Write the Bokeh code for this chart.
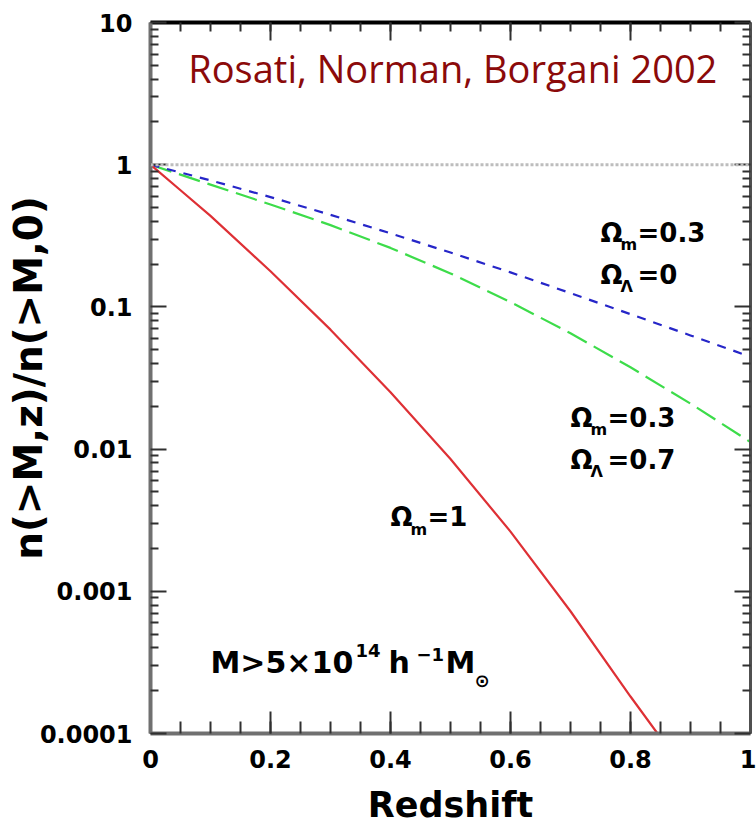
from bokeh.plotting import figure
from bokeh.models import (Range1d, FixedTicker, LinearAxis, LogAxis,
                          CustomJSTickFormatter, Span)
from bokeh.core.properties import value
from bokeh.embed import file_html
from bokeh.resources import INLINE

# ---- data ----
z_omega1 = [0.0, 0.05, 0.1, 0.2, 0.3, 0.4, 0.5, 0.6, 0.7, 0.8, 0.845]
n_omega1 = [1.0, 0.661, 0.437, 0.178, 0.0692, 0.0251, 0.00851, 0.00263,
            0.000724, 0.000182, 0.0001]

z_open = [0.0, 0.1, 0.2, 0.3, 0.4, 0.5, 0.6, 0.7, 0.8, 0.9, 1.0]
n_open = [1.0, 0.776, 0.592, 0.444, 0.329, 0.241, 0.175, 0.125, 0.0889,
          0.0630, 0.0446]

z_lambda = [0.0, 0.1, 0.2, 0.3, 0.4, 0.5, 0.6, 0.7, 0.8, 0.9, 1.0]
n_lambda = [1.0, 0.724, 0.525, 0.376, 0.260, 0.172, 0.108, 0.0653, 0.0376,
            0.0209, 0.0112]

ref_level = 1.0

x_ticks = [0.0, 0.2, 0.4, 0.6, 0.8, 1.0]
x_tick_labels = ["0", "0.2", "0.4", "0.6", "0.8", "1"]
y_ticks = [1e-4, 1e-3, 1e-2, 1e-1, 1.0, 10.0]
y_tick_labels = ["0.0001", "0.001", "0.01", "0.1", "1", "10"]

title_text = "Rosati, Norman, Borgani 2002"
x_title = "Redshift"
y_title = "n(>M,z)/n(>M,0)"

# ---- figure ----
W, H = 756, 830
p = figure(width=W, height=H, output_backend="svg", toolbar_location=None,
           y_axis_type="log", x_range=Range1d(0, 1), y_range=Range1d(1e-4, 10),
           min_border_left=150, min_border_right=6, min_border_top=22,
           min_border_bottom=97)
p.outline_line_color = None
p.grid.visible = False
p.background_fill_color = "white"
p.border_fill_color = "white"

x_minor = [round(0.05 * i, 2) for i in range(21)]
y_minor = [m * 10.0 ** e for e in range(-4, 1) for m in range(2, 10)]

def fmt(vals, labs):
    return CustomJSTickFormatter(args=dict(vals=vals, labs=labs), code="""
        for (let i = 0; i < vals.length; i++) {
            if (Math.abs(tick - vals[i]) <= 1e-6 * Math.abs(vals[i]) + 1e-12) return labs[i];
        }
        return "";
    """)

blank = CustomJSTickFormatter(code="return '';")

def style_axis(ax, color, width, major_in, minor_in):
    ax.axis_line_color = color
    ax.axis_line_width = width
    ax.major_tick_in = major_in
    ax.major_tick_out = 0
    ax.minor_tick_in = minor_in
    ax.minor_tick_out = 0
    ax.major_tick_line_color = "#303030"
    ax.minor_tick_line_color = "#303030"
    ax.major_tick_line_width = 2
    ax.minor_tick_line_width = 2
    ax.major_label_text_font = "DejaVu Sans"
    ax.major_label_text_font_style = "bold"
    ax.major_label_text_color = "black"
    ax.axis_label_text_font = "DejaVu Sans"
    ax.axis_label_text_font_style = "bold"
    ax.axis_label_text_color = "black"

xb = p.xaxis[0]
xb.ticker = FixedTicker(ticks=x_ticks, minor_ticks=x_minor)
xb.formatter = fmt(x_ticks, x_tick_labels)
style_axis(xb, "#707070", 4, 22, 12)
xb.major_label_text_font_size = "24px"
xb.major_label_standoff = 16
xb.axis_label = x_title
xb.axis_label_text_font_size = "35px"
xb.axis_label_standoff = 14

yl = p.yaxis[0]
yl.ticker = FixedTicker(ticks=y_ticks, minor_ticks=y_minor)
yl.formatter = fmt(y_ticks, y_tick_labels)
style_axis(yl, "#707070", 4, 16, 8)
yl.major_label_text_font_size = "24px"
yl.major_label_standoff = 18
yl.axis_label = y_title
yl.axis_label_text_font_size = "39px"
yl.axis_label_standoff = -14

xt = LinearAxis(ticker=FixedTicker(ticks=x_ticks, minor_ticks=x_minor),
                formatter=blank)
style_axis(xt, "black", 4, 18, 9)
xt.major_label_text_font_size = "0px"
xt.major_label_standoff = 0
p.add_layout(xt, "above")

yr = LogAxis(ticker=FixedTicker(ticks=y_ticks, minor_ticks=y_minor),
             formatter=blank)
style_axis(yr, "#505050", 3, 16, 8)
yr.major_label_text_font_size = "0px"
yr.major_label_standoff = 0
p.add_layout(yr, "right")

# ---- reference line and curves ----
p.add_layout(Span(location=ref_level, dimension="width", line_color="#bdbdbd",
                  line_width=3, line_dash="3 2"))
p.line(z_lambda, n_lambda, line_color="#3ddc4a", line_width=2.2, line_dash="22 8")
p.line(z_open, n_open, line_color="#2626c8", line_width=2.2, line_dash="9 8")
p.line(z_omega1, n_omega1, line_color="#de3035", line_width=2.2)

# ---- texts ----
def txt(x, y, t, size, dx=0, dy=0, bold=True, font="DejaVu Sans",
        color="black", lift=0.36):
    # anchor (x, y) is the text baseline; the text is drawn centred, so lift it
    p.text(x=[x], y=[y], text=[t], x_offset=dx, y_offset=dy - lift * size,
           text_font=value(font), text_font_style="bold" if bold else "normal",
           text_font_size=f"{size}px", text_color=color,
           text_baseline="middle", text_align="left")

# title inside the frame
title_pos = (0.063, 3.72)
txt(title_pos[0], title_pos[1], title_text, 38, bold=False,
    font="Open Sans", color="#8b0a0a", lift=0.42)

# cosmology annotations: (z, n, subscript, value)
ann_z = [0.75, 0.75, 0.70, 0.70, 0.40]
ann_n = [0.279, 0.141, 0.01396, 0.00708, 0.00277]
ann_sub = ["m", "Λ", "m", "Λ", "m"]
ann_val = ["=0.3", "=0", "=0.3", "=0.7", "=1"]
for z, n, s, v in zip(ann_z, ann_n, ann_sub, ann_val):
    txt(z, n, "Ω", 26, lift=0.42)
    txt(z, n, s, 16, dx=20, dy=8, lift=0.42)
    txt(z, n, v, 26, dx=37, lift=0.42)

# mass threshold
mass_pos = (0.10, 0.000264)
mz, mn = mass_pos
txt(mz, mn, "M>5×10", 30)
txt(mz, mn, "14", 18, dx=145, dy=-17)
txt(mz, mn, "h", 30, dx=178)
txt(mz, mn, "−1", 18, dx=206, dy=-13)
txt(mz, mn, "M", 30, dx=235)
txt(mz, mn, "⊙", 18, dx=264, dy=13)

open("out.html", "w").write(file_html(p, INLINE))
